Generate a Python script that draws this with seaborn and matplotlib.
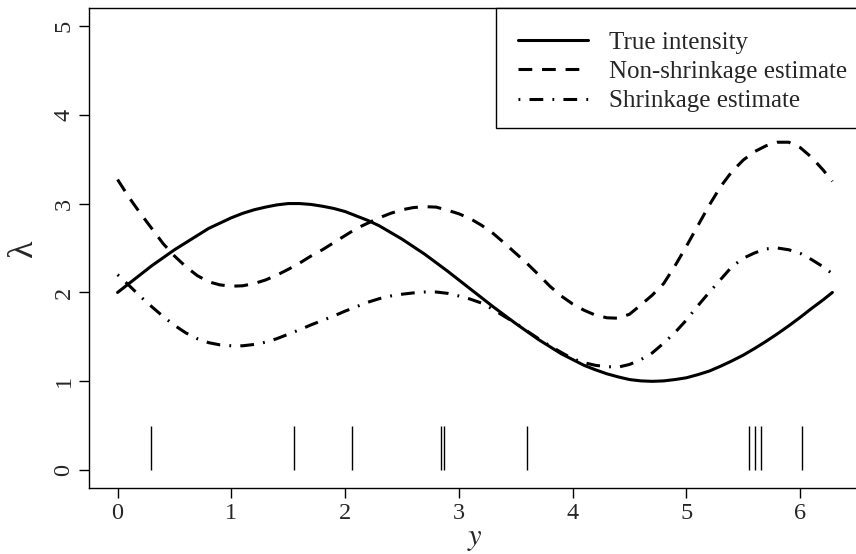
import numpy as np
import pandas as pd
import matplotlib
matplotlib.use("Agg")
import matplotlib.pyplot as plt
import seaborn as sns
from matplotlib.patches import Rectangle

# ## values (step 0.1 along y)
y_grid = [0.0, 0.1, 0.2, 0.3, 0.4, 0.5, 0.6, 0.7, 0.8, 0.9,
          1.0, 1.1, 1.2, 1.3, 1.4, 1.5, 1.6, 1.7, 1.8, 1.9,
          2.0, 2.1, 2.2, 2.3, 2.4, 2.5, 2.6, 2.7, 2.8, 2.9,
          3.0, 3.1, 3.2, 3.3, 3.4, 3.5, 3.6, 3.7, 3.8, 3.9,
          4.0, 4.1, 4.2, 4.3, 4.4, 4.5, 4.6, 4.7, 4.8, 4.9,
          5.0, 5.1, 5.2, 5.3, 5.4, 5.5, 5.6, 5.7, 5.8, 5.9,
          6.0, 6.1, 6.2, 6.283]
true_intensity = [2.00, 2.10, 2.20, 2.30, 2.39, 2.48, 2.56, 2.64, 2.72, 2.78,
                  2.84, 2.89, 2.93, 2.96, 2.985, 3.00, 3.00, 2.99, 2.97, 2.945,
                  2.91, 2.86, 2.81, 2.75, 2.675, 2.60, 2.515, 2.43, 2.335, 2.24,
                  2.14, 2.04, 1.94, 1.84, 1.745, 1.65, 1.56, 1.47, 1.39, 1.31,
                  1.245, 1.18, 1.13, 1.085, 1.05, 1.02, 1.005, 1.00, 1.005, 1.02,
                  1.04, 1.075, 1.115, 1.17, 1.23, 1.295, 1.37, 1.45, 1.535, 1.625,
                  1.72, 1.82, 1.915, 2.00]
non_shrinkage = [3.27, 3.07, 2.89, 2.72, 2.55, 2.41, 2.29, 2.19, 2.12, 2.085,
                 2.07, 2.075, 2.10, 2.14, 2.195, 2.26, 2.33, 2.41, 2.48, 2.56,
                 2.64, 2.72, 2.78, 2.84, 2.89, 2.93, 2.955, 2.965, 2.96, 2.925,
                 2.885, 2.83, 2.755, 2.665, 2.555, 2.44, 2.325, 2.20, 2.07, 1.96,
                 1.87, 1.80, 1.745, 1.715, 1.71, 1.755, 1.86, 1.97, 2.10, 2.30,
                 2.52, 2.75, 2.98, 3.19, 3.36, 3.49, 3.585, 3.65, 3.69, 3.69,
                 3.63, 3.52, 3.38, 3.25]
shrinkage = [2.20, 2.08, 1.955, 1.84, 1.73, 1.63, 1.545, 1.48, 1.435, 1.41,
             1.40, 1.40, 1.415, 1.44, 1.48, 1.53, 1.58, 1.635, 1.685, 1.735,
             1.79, 1.84, 1.89, 1.93, 1.96, 1.98, 1.995, 2.005, 2.005, 1.99,
             1.96, 1.925, 1.88, 1.81, 1.73, 1.655, 1.565, 1.48, 1.40, 1.325,
             1.255, 1.21, 1.18, 1.165, 1.16, 1.19, 1.245, 1.32, 1.43, 1.55,
             1.69, 1.85, 2.00, 2.145, 2.29, 2.385, 2.445, 2.49, 2.50, 2.48,
             2.44, 2.37, 2.29, 2.21]
events = [0.29, 1.548, 2.061, 2.847, 2.867, 3.597, 5.55, 5.605, 5.652, 6.016]
labels = ["True intensity", "Non-shrinkage estimate", "Shrinkage estimate"]

df = pd.concat([
    pd.DataFrame({"y": y_grid, "lam": true_intensity, "curve": labels[0]}),
    pd.DataFrame({"y": y_grid, "lam": non_shrinkage, "curve": labels[1]}),
    pd.DataFrame({"y": y_grid, "lam": shrinkage, "curve": labels[2]}),
])

sns.set_style("ticks")
plt.rcParams["font.family"] = ["Liberation Serif", "DejaVu Serif"]
plt.rcParams["mathtext.fontset"] = "stix"

fig = plt.figure(figsize=(8.56, 5.54), dpi=100)
ax = fig.add_axes([89 / 856, 66 / 554, 772 / 856, 480 / 554])

sns.lineplot(data=df, x="y", y="lam", hue="curve", style="curve",
             hue_order=labels, style_order=labels,
             palette={l: "black" for l in labels},
             dashes={labels[0]: "", labels[1]: (4.5, 3.2), labels[2]: (0.6, 3.0, 4.5, 3.0)},
             linewidth=2.2, sort=False, estimator=None, ax=ax)
for line in ax.get_lines():
    line.set_dash_capstyle("butt")
    line.set_solid_joinstyle("round")

# rug of event times
ax.vlines(events, 0, 0.5, color="black", linewidth=1)

ax.set_xlim(-0.2513, 6.5345)
ax.set_ylim(-0.2, 5.2)
ax.set_xticks([0, 1, 2, 3, 4, 5, 6])
ax.set_yticks([0, 1, 2, 3, 4, 5])
ax.tick_params(axis="both", labelsize=17.5, length=7, width=1, color="black", pad=3.5)
ax.tick_params(axis="y", labelrotation=90)
for t in ax.get_yticklabels():
    t.set_va("center")
for s in ax.spines.values():
    s.set_visible(True)
    s.set_linewidth(1)
    s.set_color("black")

ax.set_xlabel("$y$", fontsize=22, labelpad=0)
ax.set_ylabel("λ", fontsize=26, labelpad=10)

# legend box like R's legend("topright")
ax.add_patch(Rectangle((0.5272, 0.75), 0.5, 0.25, transform=ax.transAxes,
                       facecolor="white", edgecolor="black", linewidth=1, zorder=4,
                       clip_on=False))
handles, lbls = ax.get_legend_handles_labels()
leg = ax.legend(handles, lbls, loc="upper left",
                bbox_to_anchor=((518 - 89) / 772, (488 - 31) / 480), borderaxespad=0,
                fontsize=18, handlelength=2.8, handletextpad=0.85, labelspacing=0.28,
                borderpad=0, frameon=False)
leg.set_zorder(5)

fig.savefig("out.png", dpi=100)
